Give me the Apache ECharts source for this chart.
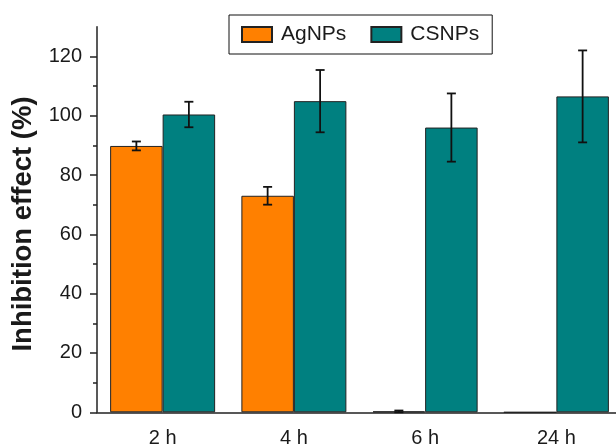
<!DOCTYPE html>
<html>
<head>
<meta charset="utf-8">
<script src="https://cdn.jsdelivr.net/npm/echarts@6/dist/echarts.min.js"></script>
<style>
html,body{margin:0;padding:0;background:#fff;}
#c{width:616px;height:445px;}
</style>
</head>
<body>
<div id="c"></div>
<script>
const categories = ['2 h', '4 h', '6 h', '24 h'];
const agnpsValues = [89.8, 73.0, 0.3, 0];
const agnpsErrors = [1.5, 3.0, 0.3, 0];
const csnpsValues = [100.4, 104.9, 96.0, 106.5];
const csnpsErrors = [4.3, 10.5, 11.5, 15.5];
const yMajorTicks = [0, 20, 40, 60, 80, 100, 120];
const yMinorTicks = [10, 30, 50, 70, 90, 110];
const yTitle = 'Inhibition effect (%)';

const FONT = '"Liberation Sans", Arial, Helvetica, sans-serif';
const INK = '#1a1a1a';

function errData(vals, errs) {
  const out = [];
  vals.forEach((v, i) => { if (errs[i] > 0) out.push([i, v - errs[i], v + errs[i]]); });
  return out;
}
function makeErr(sign) {
  return function (params, api) {
    const cat = api.value(0), lo = api.value(1), hi = api.value(2);
    const band = api.size([1, 0])[0];
    const dx = sign * band * 0.2;
    const t = api.coord([cat, hi]);
    const b = api.coord([cat, lo]);
    const x = t[0] + dx;
    const half = 4.5;
    const st = { stroke: '#111', lineWidth: 1.8 };
    return {
      type: 'group',
      children: [
        { type: 'line', shape: { x1: x, y1: t[1], x2: x, y2: b[1] }, style: st },
        { type: 'line', shape: { x1: x - half, y1: t[1], x2: x + half, y2: t[1] }, style: st },
        { type: 'line', shape: { x1: x - half, y1: b[1], x2: x + half, y2: b[1] }, style: st }
      ]
    };
  };
}

const chart = echarts.init(document.getElementById('c'), null, { renderer: 'canvas' });
const gridPos = { left: 97, top: 26.7, width: 525, height: 385.6, containLabel: false, outerBoundsMode: 'none' };
chart.setOption({
  animation: false,
  backgroundColor: '#fff',
  textStyle: { fontFamily: FONT },
  grid: [Object.assign({}, gridPos), Object.assign({}, gridPos)],
  legend: {
    data: ['AgNPs', 'CSNPs'],
    icon: 'rect',
    left: 229, top: 15,
    padding: [9, 13, 9, 12],
    itemGap: 24,
    itemWidth: 30, itemHeight: 15,
    borderColor: '#111', borderWidth: 1, borderRadius: 0,
    textStyle: { fontSize: 21, color: INK, fontFamily: FONT, padding: [0, 0, 0, 4] }
  },
  graphic: [{
    type: 'text', x: 23, y: 224, rotation: Math.PI / 2,
    style: { text: yTitle, font: 'bold 27.5px ' + FONT, fill: INK, textAlign: 'center', textVerticalAlign: 'middle' }
  }],
  xAxis: [{
    type: 'category', gridIndex: 0, data: categories,
    axisLine: { lineStyle: { color: '#222', width: 1.5 } },
    axisTick: { alignWithLabel: true, length: 7, lineStyle: { color: '#222', width: 1.5 } },
    axisLabel: { fontSize: 20, color: INK, margin: 16, fontFamily: FONT }
  }, {
    type: 'category', gridIndex: 1, data: categories,
    axisLine: { show: false },
    axisTick: { alignWithLabel: false, length: 4, lineStyle: { color: '#222', width: 1.5 } },
    axisLabel: { show: false }
  }],
  yAxis: [{
    type: 'value', gridIndex: 0, min: 0, max: 130, interval: 10,
    splitLine: { show: false },
    axisLine: { show: true, lineStyle: { color: '#222', width: 1.5 } },
    axisTick: { show: true, customValues: yMajorTicks, length: 7, lineStyle: { color: '#222', width: 1.5 } },
    axisLabel: { customValues: yMajorTicks, fontSize: 20, color: INK, margin: 15, fontFamily: FONT }
  }, {
    type: 'value', gridIndex: 1, min: 0, max: 130, interval: 10,
    splitLine: { show: false },
    axisLine: { show: false },
    axisTick: { show: true, customValues: yMinorTicks, length: 4, lineStyle: { color: '#222', width: 1.5 } },
    axisLabel: { show: false }
  }],
  series: [{
    name: 'AgNPs', type: 'bar', data: agnpsValues,
    barWidth: '40%', barGap: '0%',
    itemStyle: { color: '#FF8000', borderColor: '#222', borderWidth: 1 }
  }, {
    name: 'CSNPs', type: 'bar', data: csnpsValues,
    barWidth: '40%', barGap: '0%',
    itemStyle: { color: '#008080', borderColor: '#222', borderWidth: 1 }
  }, {
    name: 'AgNPs err', type: 'custom', renderItem: makeErr(-1),
    data: errData(agnpsValues, agnpsErrors), z: 10, encode: { x: 0, y: [1, 2] }
  }, {
    name: 'CSNPs err', type: 'custom', renderItem: makeErr(1),
    data: errData(csnpsValues, csnpsErrors), z: 10, encode: { x: 0, y: [1, 2] }
  }]
});
</script>
</body>
</html>
